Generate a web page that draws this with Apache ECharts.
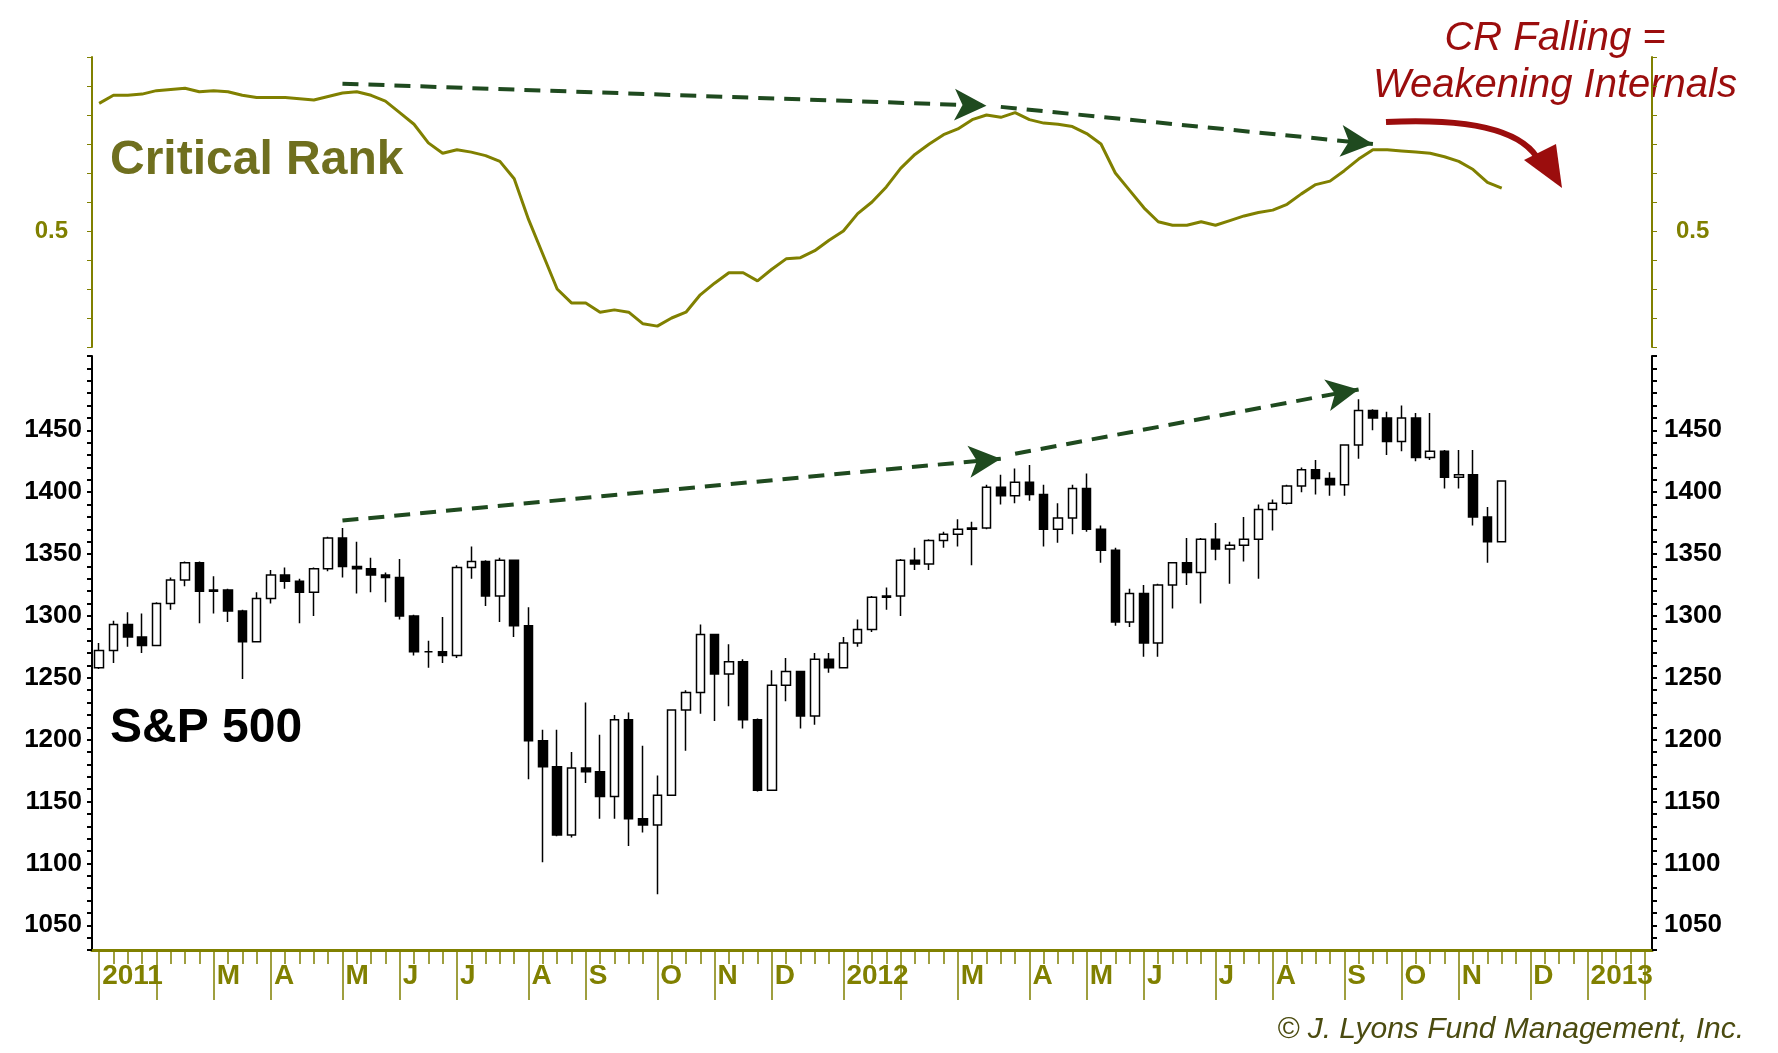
<!DOCTYPE html>
<html><head><meta charset="utf-8">
<script src="https://cdn.jsdelivr.net/npm/echarts@6/dist/echarts.min.js"></script>
<style>html,body{margin:0;padding:0;background:#fff}#c{width:1778px;height:1053px}</style>
</head><body><div id="c"></div>
<script>
// weekly OHLC as [open, close, low, high], first week ending 2011-01-07
const ohlc2011 = [
[1258,1272,1257,1278],[1272,1293,1262,1296],[1293,1283,1275,1303],[1283,1276,1270,1302],
[1276,1310,1276,1311],[1310,1329,1305,1331],[1329,1343,1324,1344],[1343,1320,1294,1344],
[1320,1321,1302,1332],[1321,1304,1295,1322],[1304,1279,1249,1305],[1279,1314,1279,1319],
[1314,1333,1310,1337],[1333,1328,1322,1339],[1328,1319,1294,1330],[1319,1338,1300,1339],
[1338,1363,1336,1364],[1363,1340,1331,1371],[1340,1338,1318,1360],[1338,1333,1319,1347],
[1333,1331,1311,1335],[1331,1300,1297,1346],[1300,1271,1268,1301],[1271,1271,1258,1280],
[1271,1268,1262,1299],[1268,1339,1266,1341],[1339,1344,1330,1356],[1344,1316,1308,1345],
[1316,1345,1295,1347],[1345,1292,1283,1345],[1292,1199,1168,1307],[1199,1178,1101,1208],
[1178,1123,1122,1208],[1123,1177,1121,1190],[1177,1174,1165,1230],[1174,1154,1136,1204],
[1154,1216,1136,1220],[1216,1136,1114,1222],[1136,1131,1125,1195],[1131,1155,1075,1171],
[1155,1224,1155,1224],[1224,1238,1191,1240],[1238,1285,1221,1293],[1285,1253,1215,1285],
[1253,1263,1227,1277],[1263,1216,1209,1265],[1216,1159,1158,1217],[1159,1244,1159,1256],
[1244,1255,1231,1266],[1255,1219,1209,1255],[1219,1265,1212,1270],[1265,1258,1254,1270]];
const ohlc2012 = [
[1258,1278,1258,1283],[1278,1289,1275,1297],[1289,1315,1287,1316],[1315,1316,1305,1323],
[1316,1345,1300,1346],[1345,1342,1337,1355],[1342,1361,1337,1362],[1361,1366,1355,1368],
[1366,1370,1356,1378],[1370,1371,1341,1376],[1371,1404,1370,1406],[1404,1397,1390,1414],
[1397,1408,1391,1419],[1408,1398,1393,1422],[1398,1370,1356,1406],[1370,1379,1359,1391],
[1379,1403,1366,1406],[1403,1370,1368,1415],[1370,1353,1343,1373],[1353,1295,1292,1355],
[1295,1318,1291,1322],[1318,1278,1267,1325],[1278,1325,1267,1326],[1325,1343,1306,1343],
[1343,1335,1325,1363],[1335,1362,1310,1363],[1362,1354,1345,1375],[1354,1357,1326,1360],
[1357,1362,1344,1380],[1362,1386,1330,1390],[1386,1391,1369,1394],[1391,1405,1390,1406],
[1405,1418,1400,1420],[1418,1411,1398,1426],[1411,1406,1397,1416],[1406,1438,1397,1438],
[1438,1466,1427,1475],[1466,1460,1450,1467],[1460,1441,1430,1465],[1441,1460,1433,1470],
[1460,1428,1425,1464],[1428,1433,1426,1464],[1433,1412,1403,1434],[1412,1414,1403,1434],
[1414,1380,1373,1434],[1380,1360,1343,1388],[1360,1409,1360,1409]];
const criticalRank = [
.610,.617,.617,.618,.621,.622,.623,.620,.621,.620,.617,.615,.615,.615,.614,.613,.616,.619,.620,.617,
.612,.602,.592,.576,.567,.570,.568,.565,.560,.545,.510,.480,.450,.438,.438,.430,.432,.430,.420,.418,
.425,.430,.445,.455,.464,.464,.457,.467,.476,.477,.483,.492,.500,.515,.525,.538,.554,.566,.575,.583,
.588,.596,.600,.598,.602,.596,.593,.592,.590,.584,.575,.550,.535,.520,.508,.505,.505,.508,.505,.509,
.513,.516,.518,.523,.532,.540,.543,.552,.562,.570,.570,.569,.568,.567,.564,.560,.553,.542,.537];
const monthLetters = ['','','M','A','M','J','J','A','S','O','N','D'];
const totalWeeks = 109;

const weeks = [];
const t0 = Date.UTC(2011,0,7);
for (let i=0;i<totalWeeks;i++){ const d=new Date(t0+i*7*86400000); weeks.push(d.toISOString().slice(0,10)); }
const monthStart = weeks.map((w,i)=> i===0 || w.slice(5,7)!==weeks[i-1].slice(5,7));
function monthLabel(i){ const w=weeks[i]; const m=+w.slice(5,7)-1; return m===0? w.slice(0,4) : monthLetters[m]; }

const ohlc = ohlc2011.concat(ohlc2012);
const OL='#808000', GR='#1f4a1f', RED='#9b0d0d';
const font='"Liberation Sans", Arial, sans-serif';

const chart = echarts.init(document.getElementById('c'));
chart.setOption({
  animation:false,
  backgroundColor:'#fff',
  grid:[{left:92,right:126,top:57,height:290},{left:92,right:126,top:356,bottom:103}],
  xAxis:[
    {type:'category',gridIndex:0,data:weeks,show:false,boundaryGap:true},
    {type:'category',gridIndex:1,data:weeks,boundaryGap:true,
      axisLine:{show:true,lineStyle:{color:OL,width:3}},
      axisTick:{show:true,alignWithLabel:true,length:50,lineStyle:{color:OL,width:1.5},interval:(i)=>monthStart[i]},
      axisLabel:{show:true,interval:(i)=>monthStart[i]&&monthLabel(i)!=='',formatter:(v,i)=>monthLabel(i),
        color:OL,fontFamily:font,fontWeight:'bold',fontSize:28,align:'left',margin:12,padding:[0,0,0,3]}},
    {type:'category',gridIndex:1,data:weeks,boundaryGap:true,position:'bottom',
      axisLine:{show:true,lineStyle:{color:OL,width:3}},axisLabel:{show:false},
      axisTick:{show:true,alignWithLabel:true,length:14,lineStyle:{color:OL,width:1.5},interval:0}}
  ],
  yAxis:[
    {type:'value',gridIndex:0,min:0.4,max:0.65,interval:0.025,position:'left',
      axisLine:{show:true,lineStyle:{color:OL,width:2}},axisTick:{show:true,length:5,lineStyle:{color:OL}},
      splitLine:{show:false},
      axisLabel:{color:OL,fontFamily:font,fontWeight:'bold',fontSize:24,formatter:v=>Math.abs(v-0.5)<1e-9?'0.5':'',margin:24}},
    {type:'value',gridIndex:0,min:0.4,max:0.65,interval:0.025,position:'right',
      axisLine:{show:true,lineStyle:{color:OL,width:2}},axisTick:{show:true,length:5,lineStyle:{color:OL}},
      splitLine:{show:false},
      axisLabel:{color:OL,fontFamily:font,fontWeight:'bold',fontSize:24,formatter:v=>Math.abs(v-0.5)<1e-9?'0.5':'',margin:24}},
    {type:'value',gridIndex:1,min:1030,max:1510,interval:10,position:'left',
      axisLine:{show:true,lineStyle:{color:'#000',width:2}},axisTick:{show:true,length:5,lineStyle:{color:'#000',width:2}},
      splitLine:{show:false},
      axisLabel:{color:'#000',fontFamily:font,fontWeight:'bold',fontSize:26,formatter:v=>v%50===0&&v<1500?String(v):'',margin:10}},
    {type:'value',gridIndex:1,min:1030,max:1510,interval:10,position:'right',
      axisLine:{show:true,lineStyle:{color:'#000',width:2}},axisTick:{show:true,length:5,lineStyle:{color:'#000',width:2}},
      splitLine:{show:false},
      axisLabel:{color:'#000',fontFamily:font,fontWeight:'bold',fontSize:26,formatter:v=>v%50===0&&v<1500?String(v):'',margin:12}}
  ],
  series:[
    {type:'line',xAxisIndex:0,yAxisIndex:0,data:criticalRank,symbol:'none',smooth:false,
      lineStyle:{color:OL,width:3},
      markLine:{silent:true,symbol:['none','arrow'],symbolSize:[24,32],label:{show:false},
        lineStyle:{color:GR,width:4,type:[16,10]},
        data:[[{coord:[weeks[17],0.627]},{coord:[weeks[62],0.608]}],
              [{coord:[weeks[63],0.607]},{coord:[weeks[89],0.575]}]]}},
    {type:'candlestick',xAxisIndex:1,yAxisIndex:2,data:ohlc,barWidth:9,
      itemStyle:{color:'#fff',color0:'#000',borderColor:'#000',borderColor0:'#000',borderWidth:1.5},
      markLine:{silent:true,symbol:['none','arrow'],symbolSize:[24,32],label:{show:false},
        lineStyle:{color:GR,width:4,type:[16,10]},
        data:[[{coord:[weeks[17],1377]},{coord:[weeks[63],1427]}],
              [{coord:[weeks[64],1431]},{coord:[weeks[88],1483]}]]}}
  ],
  graphic:[
    {type:'text',x:110,y:137,style:{text:'Critical Rank',font:'bold 48px '+font,fill:'#6f6f1e'}},
    {type:'text',x:110,y:705,style:{text:'S&P 500',font:'bold 48px '+font,fill:'#000'}},
    {type:'text',x:1555,y:15,style:{text:'CR Falling =\nWeakening Internals',font:'italic 40px '+font,fill:RED,align:'center',lineHeight:47}},
    {type:'bezierCurve',shape:{x1:1386,y1:122,x2:1542,y2:168,cpx1:1470,cpy1:118,cpx2:1530,cpy2:130},style:{stroke:RED,lineWidth:6,fill:'none'}},
    {type:'polygon',shape:{points:[[1524,160],[1562,188],[1556,144]]},style:{fill:RED}},
    {type:'text',x:1744,y:1015,style:{text:'© J. Lyons Fund Management, Inc.',font:'italic 30px '+font,fill:'#4b4b10',align:'right'}}
  ]
});
</script></body></html>
